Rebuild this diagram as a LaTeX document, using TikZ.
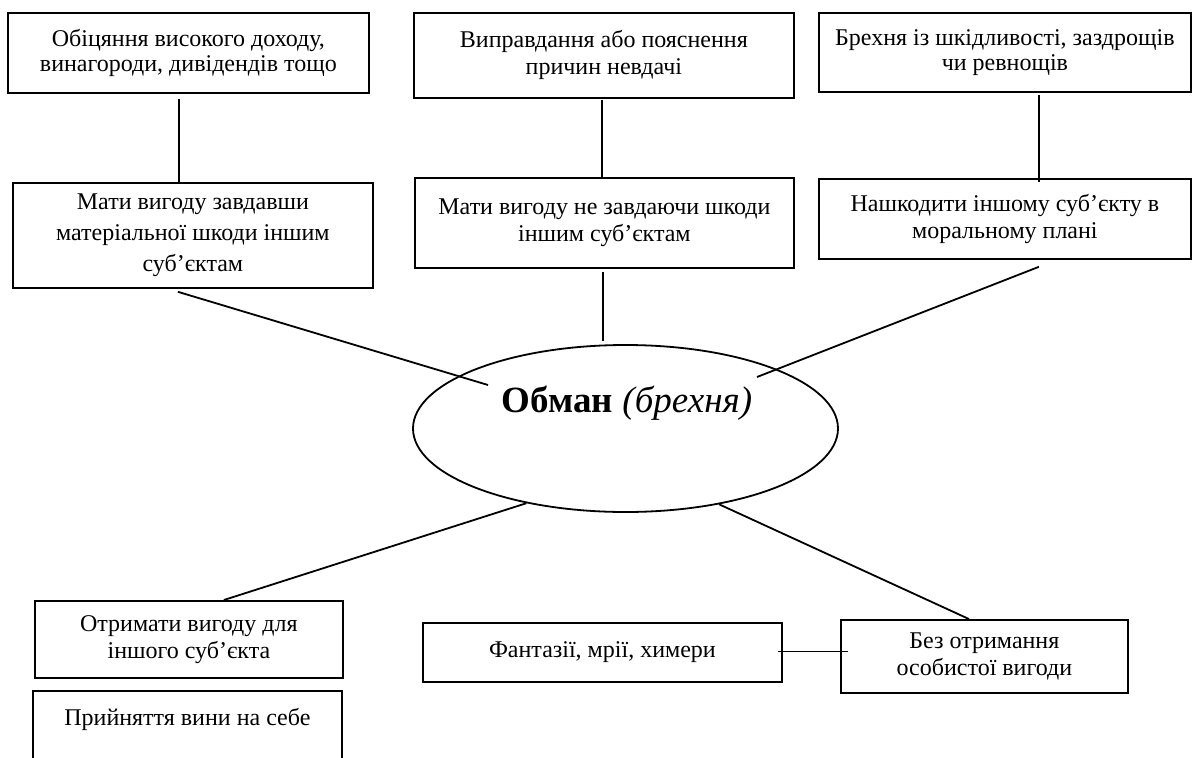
\documentclass[tikz,border=0pt]{standalone}
\usepackage{fontspec}
\setmainfont{Liberation Serif}
\usetikzlibrary{shapes.geometric,calc}

\begin{document}
	\begin{tikzpicture}[x=1pt, y=-1pt, line width=1.8pt,
		blok/.style={draw, rectangle, anchor=north west, align=center, inner sep=0pt, font=\fontsize{24pt}{27pt}\selectfont},
		obmanoval/.style={draw, ellipse, minimum width=425pt, minimum height=167pt, inner sep=0pt}]
		\useasboundingbox (0, 0) rectangle (1192, 758);
		\clip (0, 0) rectangle (1192, 758);
		
		\node[obmanoval] (obman) at (625.5, 428.5) {};
		\node[font=\fontsize{37pt}{42pt}\selectfont] (obmantxt) at (627, 403) {\textbf{Обман} \textit{(брехня)}};
		\coordinate (obmanL) at (488, 385);
		\coordinate (obmanR) at (757, 377);
		
		\node[blok, minimum width=361pt, minimum height=80pt, font=\fontsize{24pt}{25pt}\selectfont] (dohid) at (7, 12) {Обіцяння високого доходу,\\винагороди, дивідендів тощо};
		\node[blok, minimum width=360pt, minimum height=105pt, font=\fontsize{24pt}{31pt}\selectfont] (shkoda) at (12, 182) {Мати вигоду завдавши\\матеріальної шкоди іншим\\суб’єктам};
		\draw ($(dohid.south)+(-9.5, 5)$) -- ($(dohid.south |- shkoda.north)+(-9.5, 0)$);
		\draw ($(shkoda.south)+(-15, 3)$) -- (obmanL);
		
		\node[blok, minimum width=380pt, minimum height=85pt] (nevdacha) at (413, 12) {Виправдання або пояснення\\причин невдачі};
		\node[blok, minimum width=379pt, minimum height=90pt] (bezshkody) at (414, 177) {Мати вигоду не завдаючи шкоди\\іншим суб’єктам};
		\draw ($(nevdacha.south)+(-2, 1)$) -- ($(nevdacha.south |- bezshkody.north)+(-2, 0)$);
		\draw ($(bezshkody.south)+(-1.5, 3)$) -- ($(bezshkody.south |- obman.north)+(-1.5, -3)$);
		
		\node[blok, minimum width=372pt, minimum height=79pt, font=\fontsize{24pt}{25pt}\selectfont] (zazdroshchi) at (818, 12) {Брехня із шкідливості, заздрощів\\чи ревнощів};
		\node[blok, minimum width=372pt, minimum height=80pt] (moralno) at (818, 178) {Нашкодити іншому суб’єкту в\\моральному плані};
		\draw ($(zazdroshchi.south)+(34, 2)$) -- ($(zazdroshchi.south |- moralno.north)+(34, 4)$);
		\draw ($(moralno.south)+(34, 7)$) -- (obmanR);
		
		\node[blok, minimum width=308pt, minimum height=77pt] (inshomu) at (34, 600) {Отримати вигоду для\\іншого суб’єкта};
		\node[blok, minimum width=309pt, minimum height=80pt] (vyna) at (32, 690) {Прийняття вини на себе\\\mbox{}};
		\draw (obman.217) -- ($(inshomu.north)+(35, 0)$);
		
		\node[blok, minimum width=287pt, minimum height=73pt] (osobysta) at (840, 619) {Без отримання\\особистої вигоди};
		\node[blok, minimum width=359pt, minimum height=59pt] (fantazii) at (422, 622) {Фантазії, мрії, химери};
		\draw (obman.321) -- ($(osobysta.north)+(-15.5, 0)$);
		\draw ($(fantazii.east)+(-5, -1)$) -- ($(osobysta.west |- fantazii.east)+(8, -1)$);
	\end{tikzpicture}
\end{document}
